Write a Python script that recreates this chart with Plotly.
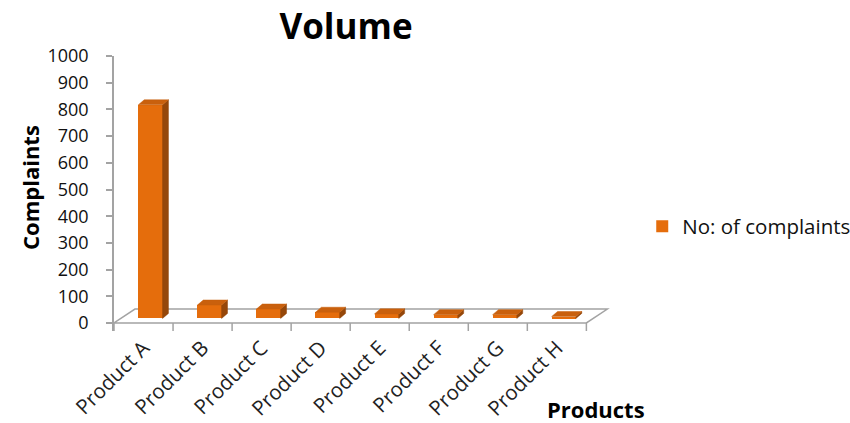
import plotly.graph_objects as go

# ---- data ----
categories = ["Product A", "Product B", "Product C", "Product D",
              "Product E", "Product F", "Product G", "Product H"]
complaints = [800, 50, 35, 23, 17, 14, 14, 7]
series_name = "No: of complaints"
y_ticks = list(range(0, 1001, 100))

# ---- pseudo-3D geometry (in axis units) ----
FLOOR_DX, FLOOR_DY = 0.355, 52      # depth of the floor
FRONT_DX, FRONT_DY = 0.117, 17      # where the bar front sits in the depth
BACK_DX, BACK_DY = 0.217, 36        # where the bar back sits in the depth
BAR_W = 0.41

FRONT_COL = "#E56D0C"
TOP_COL = "#C9600D"
SIDE_COL = "#95470A"
EDGE_COL = "#A3A3A3"

n = len(categories)
idx = list(range(n))

fig = go.Figure()

# front faces of the bars
fig.add_trace(go.Bar(
    x=[i + FRONT_DX for i in idx], y=complaints, base=[FRONT_DY] * n,
    width=BAR_W, marker=dict(color=FRONT_COL, line=dict(width=0)),
    name=series_name, showlegend=True, hoverinfo="skip",
))

# side faces
sx, sy = [], []
for i, v in zip(idx, complaints):
    xr = i + FRONT_DX + BAR_W / 2
    xb = xr + (BACK_DX - FRONT_DX)
    sx += [xr, xb, xb, xr, xr, None]
    sy += [FRONT_DY, BACK_DY, BACK_DY + v, FRONT_DY + v, FRONT_DY, None]
fig.add_trace(go.Scatter(x=sx, y=sy, mode="lines", fill="toself",
                         fillcolor=SIDE_COL, line=dict(width=0.5, color=SIDE_COL),
                         showlegend=False, hoverinfo="skip"))

# top faces
tx, ty = [], []
for i, v in zip(idx, complaints):
    xl = i + FRONT_DX - BAR_W / 2
    xr = i + FRONT_DX + BAR_W / 2
    d = BACK_DX - FRONT_DX
    tx += [xl, xr, xr + d, xl + d, xl, None]
    ty += [FRONT_DY + v, FRONT_DY + v, BACK_DY + v, BACK_DY + v, FRONT_DY + v, None]
fig.add_trace(go.Scatter(x=tx, y=ty, mode="lines", fill="toself",
                         fillcolor=TOP_COL, line=dict(width=0.5, color=TOP_COL),
                         showlegend=False, hoverinfo="skip"))

# category boundary tick marks under the floor
kx, ky = [], []
for k in range(n + 1):
    kx += [k - 0.5, k - 0.5, None]
    ky += [0, -30, None]
fig.add_trace(go.Scatter(x=kx, y=ky, mode="lines",
                         line=dict(color=EDGE_COL, width=1.5),
                         showlegend=False, hoverinfo="skip"))

# floor outline (drawn beneath the bars)
x0, x1 = -0.5, n - 0.5
floor_path = (f"M {x0},0 L {x1},0 L {x1 + FLOOR_DX},{FLOOR_DY} "
              f"L {x0 + FLOOR_DX},{FLOOR_DY} Z")
fig.add_shape(type="path", path=floor_path, xref="x", yref="y",
              line=dict(color=EDGE_COL, width=1.5), fillcolor="white",
              layer="below")

fig.update_layout(
    width=850, height=423,
    margin=dict(l=114, r=240, t=56, b=92, autoexpand=False),
    paper_bgcolor="white", plot_bgcolor="white",
    font=dict(family="Open Sans", color="#000000"),
    title=dict(text="Volume", x=346 / 850, xanchor="center",
               y=1 - 27 / 423, yanchor="middle",
               font=dict(family="Open Sans", size=35, weight="bold", color="#000000")),
    xaxis=dict(range=[-0.5, n - 0.5 + 0.4], tickvals=idx, ticktext=categories,
               tickangle=-45, ticks="", showgrid=False, zeroline=False,
               showline=False, automargin=False,
               tickfont=dict(size=20.5, color="#222222")),
    yaxis=dict(range=[-30, 1000], tickvals=y_ticks, ticks="outside",
               ticklen=6, tickcolor=EDGE_COL, tickwidth=1.5,
               showline=True, linecolor=EDGE_COL, linewidth=1.5,
               showgrid=False, zeroline=False, ticklabelstandoff=14,
               automargin=False,
               tickfont=dict(size=18, color="#111111")),
    legend=dict(x=1.065, xanchor="left", y=0.38, yanchor="middle",
                font=dict(size=20.5, color="#111111"), bgcolor="rgba(0,0,0,0)"),
    bargap=0,
    annotations=[
        dict(text="Complaints", x=30, y=188, xref="paper", yref="paper",
             xanchor="center", yanchor="middle",
             showarrow=False, textangle=-90,
             font=dict(size=22, weight="bold", color="#000000")),
        dict(text="Products", x=596, y=409, xref="paper", yref="paper",
             xanchor="center", yanchor="middle",
             showarrow=False,
             font=dict(size=22, weight="bold", color="#000000")),
    ],
)

# annotation positions above are given in pixels; convert to paper fractions
pw = 850 - 114 - 240
ph = 423 - 56 - 92
for a in fig.layout.annotations:
    a.x = (a.x - 114) / pw
    a.y = (423 - 92 - a.y) / ph

fig.write_html("out.html")
